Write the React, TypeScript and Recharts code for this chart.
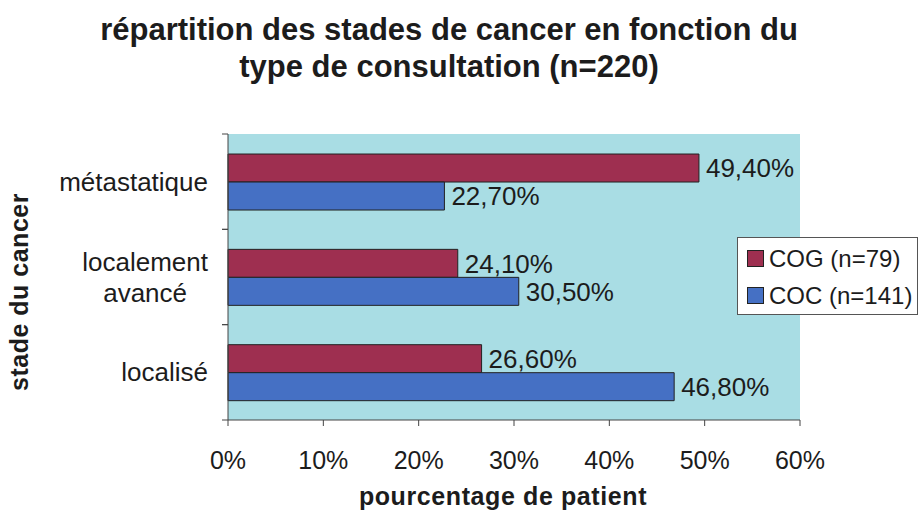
import React from "react";
import { BarChart, Bar, XAxis, YAxis, CartesianGrid, Legend, LabelList } from "recharts";

const stades = ["métastatique", "localement\navancé", "localisé"];
const cog = [49.4, 24.1, 26.6];
const coc = [22.7, 30.5, 46.8];
const xTicks = [0, 10, 20, 30, 40, 50, 60];

const data = stades.map((stade, i) => ({ stade, cog: cog[i], coc: coc[i] }));

const FONT = "'Liberation Sans', Arial, Helvetica, sans-serif";
const INK = "#1c1c1c";
const RED = "#9E2F50";
const BLUE = "#4570C4";

let ctx: CanvasRenderingContext2D | null = null;
function textWidth(s: string, size: number) {
  if (!ctx) ctx = document.createElement("canvas").getContext("2d");
  if (!ctx) return s.length * size * 0.5;
  ctx.font = `${size}px ${FONT}`;
  return ctx.measureText(s).width;
}

const fmt = (v: number) => v.toFixed(2).replace(".", ",") + "%";

// Excel-style ticks: marks sit on the category boundaries, not the centres
function StadeTick(props: any) {
  const { x, y, payload } = props;
  const lines: string[] = String(payload.value).split("\n");
  const half = payload.offset || 0;
  const right = x - 20;
  const size = 26;
  const widest = Math.max(...lines.map((l) => textWidth(l, size)));
  const cx = right - widest / 2;
  const lh = 31;
  const y0 = y - ((lines.length - 1) * lh) / 2;
  const multi = lines.length > 1;
  return (
    <g>
      <line x1={x - 6} x2={x} y1={y - half} y2={y - half} stroke="#444" />
      <line x1={x - 6} x2={x} y1={y + half} y2={y + half} stroke="#444" />
      <text
        x={multi ? cx : right}
        y={y0}
        textAnchor={multi ? "middle" : "end"}
        dominantBaseline="central"
        fontSize={size}
        fontFamily={FONT}
        fill={INK}
      >
        {lines.map((l, i) => (
          <tspan key={i} x={multi ? cx : right} dy={i === 0 ? 0 : lh}>
            {l}
          </tspan>
        ))}
      </text>
    </g>
  );
}

function LegendBox() {
  const items = [
    { label: "COG (n=79)", color: RED },
    { label: "COC (n=141)", color: BLUE },
  ];
  return (
    <div
      style={{
        width: 181,
        height: 78,
        boxSizing: "border-box",
        border: "1px solid #555",
        background: "#fff",
        padding: "2px 0 0 9px",
        fontFamily: FONT,
        fontSize: 24,
        color: INK,
        textAlign: "left",
      }}
    >
      {items.map((it) => (
        <div key={it.label} style={{ display: "flex", alignItems: "center", height: 37, lineHeight: "37px" }}>
          <span
            style={{
              display: "inline-block",
              width: 15,
              height: 15,
              background: it.color,
              border: "1px solid #222",
              marginRight: 5,
            }}
          />
          {it.label}
        </div>
      ))}
    </div>
  );
}

export default function App() {
  return (
    <div style={{ position: "absolute", left: 0, top: 0, width: 921, height: 520, background: "#fff" }}>
      <div
        style={{
          position: "absolute",
          left: 0,
          top: 11,
          width: 898,
          textAlign: "center",
          fontFamily: FONT,
          fontWeight: "bold",
          fontSize: 31,
          lineHeight: "37px",
          color: INK,
        }}
      >
        répartition des stades de cancer en fonction du
        <br />
        type de consultation (n=220)
      </div>
      <div
        style={{
          position: "absolute",
          left: 19,
          top: 292,
          transform: "translate(-50%, -50%) rotate(-90deg)",
          whiteSpace: "nowrap",
          fontFamily: FONT,
          fontWeight: "bold",
          fontSize: 25,
          letterSpacing: 0.5,
          color: INK,
        }}
      >
        stade du cancer
      </div>
      <div
        style={{
          position: "absolute",
          left: 503,
          top: 482,
          transform: "translateX(-50%)",
          whiteSpace: "nowrap",
          fontFamily: FONT,
          fontWeight: "bold",
          fontSize: 25,
          letterSpacing: 0.6,
          color: INK,
        }}
      >
        pourcentage de patient
      </div>
      <div style={{ position: "absolute", left: 0, top: 0 }}>
        <BarChart
          width={921}
          height={520}
          data={data}
          layout="vertical"
          margin={{ top: 134, right: 121, bottom: 60, left: 28 }}
          barCategoryGap="21%"
          barGap={0}
        >
          <CartesianGrid horizontal={false} vertical={false} fill="#A9DDE4" stroke="none" />
          <XAxis
            type="number"
            domain={[0, 60]}
            ticks={xTicks}
            tickFormatter={(v) => v + "%"}
            axisLine={{ stroke: "#444" }}
            tickLine={{ stroke: "#444" }}
            tickSize={6}
            tickMargin={25}
            height={40}
            tick={{ fontSize: 25, fontFamily: FONT, fill: INK }}
          />
          <YAxis
            type="category"
            dataKey="stade"
            width={200}
            axisLine={{ stroke: "#444" }}
            tickLine={false}
            tickSize={0}
            tickMargin={0}
            tick={<StadeTick />}
            interval={0}
          />
          <Legend
            layout="horizontal"
            verticalAlign="middle"
            align="center"
            content={<LegendBox />}
            wrapperStyle={{ position: "absolute", left: 737, top: 237, width: 181, height: 78 }}
          />
          <Bar dataKey="cog" fill={RED} stroke="#222" strokeWidth={1} isAnimationActive={false}>
            <LabelList
              dataKey="cog"
              position="right"
              offset={7}
              formatter={(v: any) => fmt(Number(v))}
              style={{ fontSize: 26, fontFamily: FONT, fill: INK }}
            />
          </Bar>
          <Bar dataKey="coc" fill={BLUE} stroke="#222" strokeWidth={1} isAnimationActive={false}>
            <LabelList
              dataKey="coc"
              position="right"
              offset={7}
              formatter={(v: any) => fmt(Number(v))}
              style={{ fontSize: 26, fontFamily: FONT, fill: INK }}
            />
          </Bar>
        </BarChart>
      </div>
    </div>
  );
}
